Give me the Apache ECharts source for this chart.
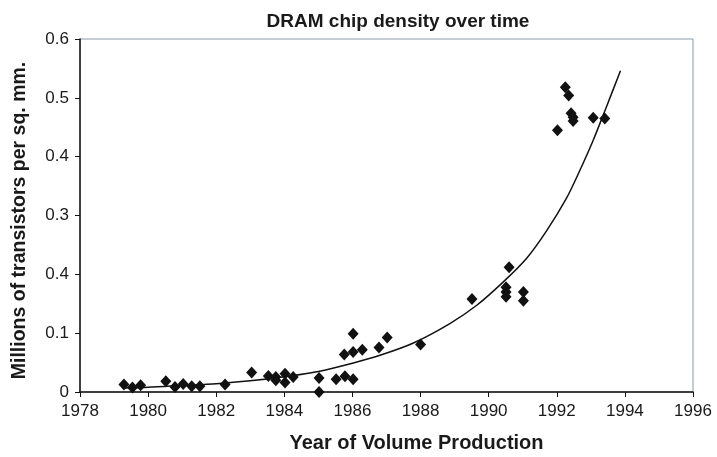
<!DOCTYPE html>
<html>
<head>
<meta charset="UTF-8">
<title>DRAM chip density over time</title>
<script src="https://cdn.jsdelivr.net/npm/echarts@6/dist/echarts.min.js"></script>
<style>html,body{margin:0;background:#fff}</style>
</head>
<body>
<div id="chart" style="width:717px;height:457px;"></div>
<script>
// data points (year, millions of transistors per sq. mm)
var years = [1979.29, 1979.54, 1979.78, 1980.52, 1980.79, 1981.03, 1981.28, 1981.52, 1982.26,
	1983.04, 1983.53, 1983.75, 1983.75, 1984.02, 1984.02, 1984.26, 1985.02, 1985.02, 1985.52,
	1985.76, 1985.78, 1986.02, 1986.02, 1986.02, 1986.29, 1986.78, 1987.02, 1988.0, 1989.51,
	1990.51, 1990.51, 1990.51, 1990.60, 1991.02, 1991.02,
	1992.02, 1992.25, 1992.35, 1992.42, 1992.48, 1992.48, 1993.07, 1993.41];
var density = [0.0126, 0.0075, 0.0114, 0.0182, 0.0085, 0.0136, 0.0097, 0.0097, 0.0126,
	0.033, 0.027, 0.0255, 0.020, 0.031, 0.016, 0.0255, 0.024, 0.0, 0.0216,
	0.0636, 0.0267, 0.068, 0.099, 0.0216, 0.072, 0.0755, 0.0925, 0.0806, 0.158,
	0.178, 0.170, 0.162, 0.212, 0.170, 0.155,
	0.445, 0.518, 0.504, 0.474, 0.467, 0.4605, 0.466, 0.465];

// trend curve
var trendYears = [1979.3, 1980, 1981, 1982, 1983, 1984, 1985, 1986, 1986.81, 1987.79, 1988.86,
	1989.65, 1990.43, 1991.11, 1991.70, 1992.29, 1992.68, 1993.07, 1993.46, 1993.87];
var trendValues = [0.007, 0.008, 0.011, 0.014, 0.019, 0.026, 0.035, 0.049, 0.0624, 0.0833, 0.1163,
	0.1474, 0.1872, 0.2270, 0.2740, 0.3300, 0.377, 0.428, 0.485, 0.546];

// tick labels as printed (the 0.2 tick reads "0.4" in the original)
var yTickLabels = ['0', '0.1', '0.4', '0.3', '0.4', '0.5', '0.6'];

var points = years.map(function (y, i) { return [y, density[i]]; });
var trend = trendYears.map(function (y, i) { return [y, trendValues[i]]; });

var font = '"Liberation Sans", Arial, sans-serif';
var ink = '#1a1a1a';
var chart = echarts.init(document.getElementById('chart'));
chart.setOption({
	animation: false,
	backgroundColor: '#fff',
	title: {
		text: 'DRAM chip density over time',
		left: 393,
		top: 7,
		textAlign: 'center',
		textStyle: { fontFamily: font, fontSize: 19, fontWeight: 'bold', color: ink }
	},
	grid: {
		left: 80, right: 24, top: 39, bottom: 65,
		outerBoundsMode: 'none',
		containLabel: false,
		show: true, borderColor: '#8b9aa8', borderWidth: 1
	},
	xAxis: {
		type: 'value',
		min: 1978, max: 1996, interval: 2,
		name: 'Year of Volume Production',
		nameLocation: 'middle',
		nameGap: 41,
		nameTextStyle: {
			fontFamily: font, fontSize: 20, fontWeight: 'bold', color: ink,
			padding: [0, 0, 0, 60]
		},
		axisLine: { lineStyle: { color: '#111', width: 1.5 } },
		axisTick: { length: 5, lineStyle: { color: '#111' } },
		axisLabel: {
			fontFamily: font, fontSize: 17, color: ink, margin: 11,
			formatter: function (v) { return String(v); }
		},
		splitLine: { show: false }
	},
	yAxis: {
		type: 'value',
		min: 0, max: 0.6, interval: 0.1,
		name: 'Millions of transistors per sq. mm.',
		nameLocation: 'middle',
		nameRotate: 90,
		nameGap: 50,
		nameTextStyle: {
			fontFamily: font, fontSize: 19.5, fontWeight: 'bold', color: ink,
			padding: [0, 10, 0, 0]
		},
		axisLine: { show: true, lineStyle: { color: '#111', width: 1.5 } },
		axisTick: { show: true, length: 5, lineStyle: { color: '#111' } },
		axisLabel: {
			fontFamily: font, fontSize: 17, color: ink, margin: 11,
			formatter: function (v) { return yTickLabels[Math.round(v * 10)]; }
		},
		splitLine: { show: false }
	},
	series: [
		{
			type: 'line',
			data: trend,
			smooth: 0.3,
			showSymbol: false,
			lineStyle: { color: '#111', width: 1.5 },
			z: 2
		},
		{
			type: 'scatter',
			data: points,
			symbol: 'diamond',
			symbolSize: [11, 12],
			itemStyle: { color: '#111', opacity: 1 },
			z: 3
		}
	]
});
</script>
</body>
</html>
